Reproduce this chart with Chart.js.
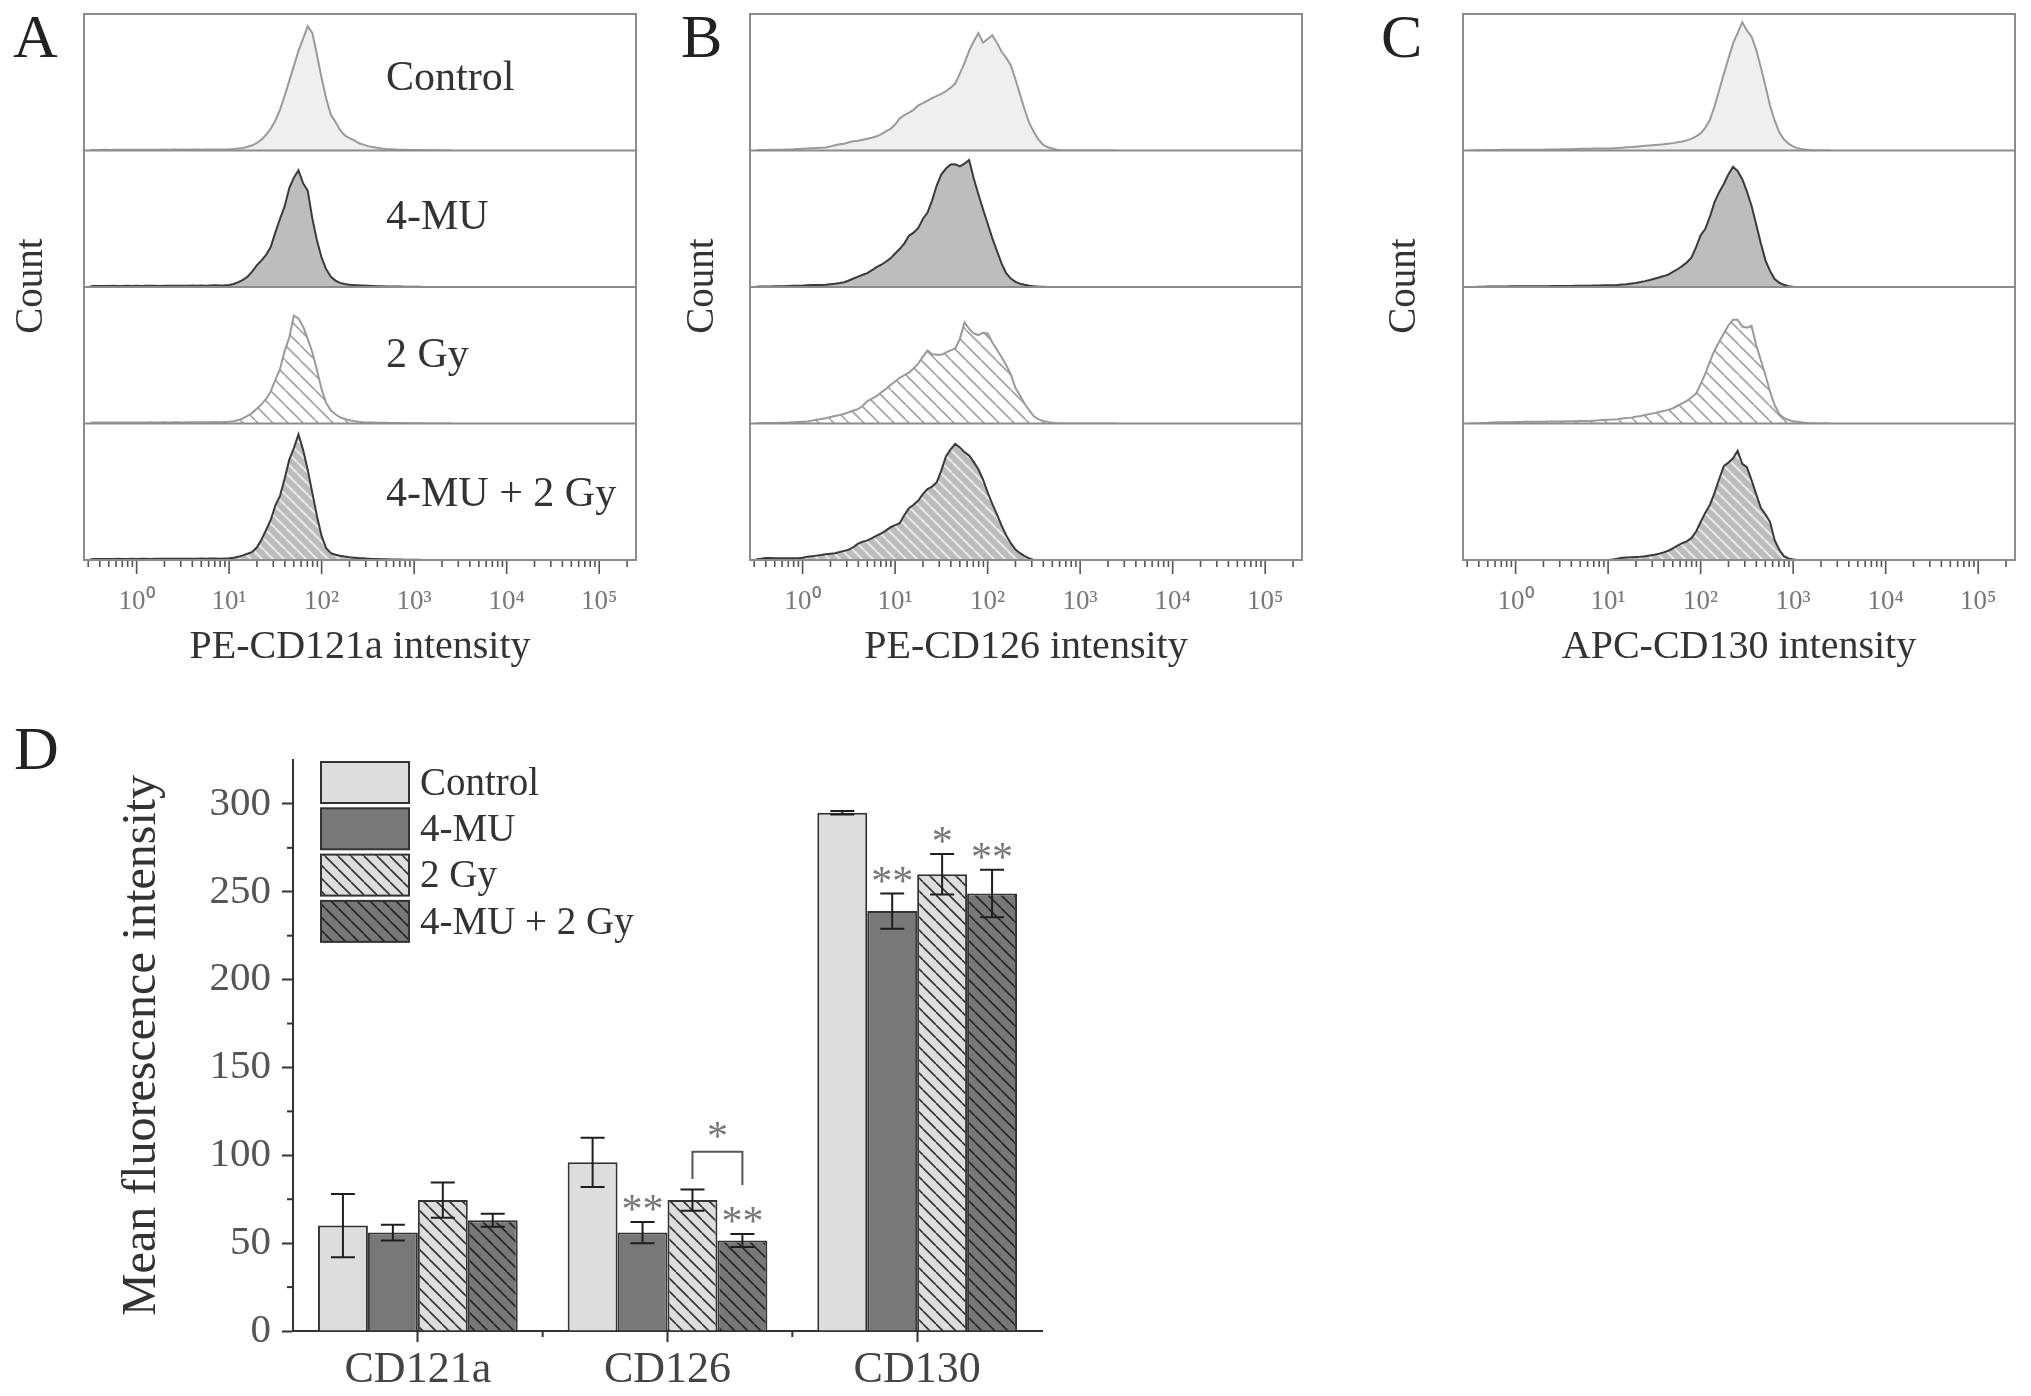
<!DOCTYPE html>
<html>
<head>
<meta charset="utf-8">
<script src="https://cdn.jsdelivr.net/npm/chart.js@4.4.0/dist/chart.umd.min.js"></script>
<style>
  html, body { margin: 0; padding: 0; background: #fff; }
  body { width: 2031px; height: 1396px; position: relative; overflow: hidden; font-family: "Liberation Serif", "Times New Roman", serif; }
  canvas { position: absolute; }
  .t { position: absolute; white-space: nowrap; line-height: 1; color: #333; }
  .letter { font-size: 62px; color: #222; }
  .count { font-size: 39px; transform: translate(-50%, -50%) rotate(-90deg); }
  .cond { font-size: 42px; }
</style>
</head>
<body>
<canvas id="histA" width="700" height="671" style="left:0px;top:0px;width:700px;height:671px"></canvas>
<canvas id="histB" width="700" height="671" style="left:666px;top:0px;width:700px;height:671px"></canvas>
<canvas id="histC" width="652" height="671" style="left:1379px;top:0px;width:652px;height:671px"></canvas>
<canvas id="barD" width="1100" height="696" style="left:0px;top:700px;width:1100px;height:696px"></canvas>

<div class="t letter" style="left:13px;top:5px">A</div>
<div class="t letter" style="left:681px;top:5px">B</div>
<div class="t letter" style="left:1381px;top:5px">C</div>
<div class="t letter" style="left:14px;top:717px">D</div>

<div class="t count" style="left:28px;top:286px">Count</div>
<div class="t count" style="left:699px;top:286px">Count</div>
<div class="t count" style="left:1401px;top:286px">Count</div>

<div class="t cond" id="cond0" style="left:386px;top:55px"></div>
<div class="t cond" id="cond1" style="left:386px;top:194px"></div>
<div class="t cond" id="cond2" style="left:386px;top:332px"></div>
<div class="t cond" id="cond3" style="left:386px;top:471px"></div>

<script>
// ---------------- data ----------------
const conditions = ['Control', '4-MU', '2 Gy', '4-MU + 2 Gy'];
const markers = ['CD121a', 'CD126', 'CD130'];
const xTitles = ['PE-CD121a intensity', 'PE-CD126 intensity', 'APC-CD130 intensity'];

// histogram bin centres (fluorescence intensity)
const intensity = [
  0.316, 0.355, 0.398, 0.447, 0.501, 0.562, 0.631, 0.708, 0.794, 0.891,
  1.00, 1.12, 1.26, 1.41, 1.58, 1.78, 2.00, 2.24, 2.51, 2.82,
  3.16, 3.55, 3.98, 4.47, 5.01, 5.62, 6.31, 7.08, 7.94, 8.91,
  10.0, 11.2, 12.6, 14.1, 15.8, 17.8, 20.0, 22.4, 25.1, 28.2,
  31.6, 35.5, 39.8, 44.7, 50.1, 56.2, 63.1, 70.8, 79.4, 89.1,
  100, 112, 126, 141, 158, 178, 200, 224, 251, 282,
  316, 355, 398, 447, 501, 562, 631, 708, 794, 891,
  1000, 1122, 1259, 1413, 1585, 1778, 1995, 2239, 2512
];

// counts (% of modal height) — panel A, PE-CD121a
const cd121aControl = [
  0.3,0.4,0.4,0.5,0.4,0.5,0.6,0.5,0.6,0.5,
  0.6,0.5,0.6,0.6,0.5,0.6,0.7,0.6,0.7,0.6,
  0.7,0.6,0.7,0.7,0.6,0.7,0.8,0.7,0.8,0.8,
  0.9,1.1,1.4,1.8,2.7,3.8,5.5,8,11.5,16,
  22,30,40,51,62,73,82,91,86,70,
  53,38,26,21,15,11,9,7.5,5.5,4.3,
  3.2,2.6,2,1.5,1.1,0.9,0.7,0.6,0.5,0.4,
  0.3,0.3,0.2,0.2,0.1,0.1,0,0,0
];
const cd121aMU = [
  0.6,0.7,0.8,0.7,0.8,0.9,0.8,0.8,0.9,0.8,
  0.9,0.8,0.9,1.0,0.9,0.8,0.9,1.0,0.9,1.0,
  0.9,1.0,1.1,1.0,1.1,1.0,1.1,1.2,1.1,1.2,
  1.5,2.2,3.6,5.2,7.5,11.5,16,19.5,23.5,29.5,
  40,50,59,72.5,80,85.5,76,70.5,50,34,
  21.5,13,7.5,4.7,3,2.2,1.7,1.4,1.2,1.1,
  1,0.8,0.6,0.5,0.4,0.4,0.3,0.3,0.2,0.2,
  0.1,0.1,0,0,0,0,0,0,0
];
const cd121aGy = [
  0.6,0.7,0.7,0.8,0.7,0.8,0.8,0.7,0.8,0.8,
  0.8,0.7,0.8,0.9,0.8,0.8,0.9,0.8,0.9,0.9,
  0.8,0.9,0.9,1.0,0.9,1.0,1.0,1.1,1.0,1.1,
  1.2,1.7,2.5,3.8,5.5,7.8,11,14,18,23.5,
  32,40,53,63,79,77,71,62,52,39,
  25,15,9.5,6.8,4.6,3.4,2.4,1.8,1.3,1,
  0.8,0.7,0.6,0.5,0.5,0.4,0.3,0.3,0.2,0.2,
  0.1,0.1,0,0,0,0,0,0,0
];
const cd121aMUGy = [
  0.6,0.7,0.8,0.7,0.8,0.8,0.9,0.8,0.8,0.9,
  0.8,0.9,0.9,0.8,0.9,1.0,0.9,0.9,1.0,0.9,
  1.0,0.9,1.0,1.0,1.1,1.0,1.1,1.1,1.0,1.1,
  1.2,1.7,2.4,3.4,4.6,6,9.3,15,22,29.5,
  40,47,59.5,73.5,82,92,80.5,66,49,32,
  17.5,8.6,5,3.8,3.1,2.5,2,1.7,1.4,1.2,
  1,0.8,0.7,0.6,0.5,0.4,0.3,0.3,0.2,0.2,
  0.1,0.1,0,0,0,0,0,0,0
];

// panel B, PE-CD126
const cd126Control = [
  0.2,0.3,0.4,0.5,0.5,0.6,0.6,0.8,0.9,1.1,
  1.3,1.4,1.6,1.8,2,2.2,3,3.9,4.5,5,
  6,6.7,7.2,7.9,8.6,9.4,10.4,12,14,15.8,
  19,23.5,26,27.8,29.8,33,34.7,36.5,38.3,40,
  41.5,43.5,46,49,56.5,64,73,80,86,79,
  81.7,84.5,79,72.5,68,62.5,52,41,30,20,
  13.5,8,4.2,2.4,1.5,0.6,0,0,0,0,
  0,0,0,0,0,0,0,0,0
];
const cd126MU = [
  0.2,0.3,0.4,0.4,0.5,0.5,0.6,0.8,0.9,1.0,
  1.1,1.3,1.4,1.4,1.5,1.6,2,2.4,2.9,3.5,
  4.8,6.2,7.6,9,10.2,12.3,14.6,16.3,18.5,21,
  24.5,27.8,32,37.5,39.8,43.3,50,54.5,63.5,74.5,
  82.5,86.8,89.7,90,88.3,90.4,93,79.5,68,57,
  46.5,36,26.5,17.5,10.3,6.2,3.8,2.4,1.6,0.9,
  0.5,0.3,0.2,0,0,0,0,0,0,0,
  0,0,0,0,0,0,0,0,0
];
const cd126Gy = [
  0.1,0.2,0.3,0.3,0.4,0.5,0.6,0.7,0.9,1.1,
  1.3,1.5,2.1,2.8,3.3,3.8,4.7,5.5,6.2,7.1,
  8.2,9.5,10.5,13,16.4,18.3,20,22.8,25.3,28.2,
  30.8,33.5,35.5,37.2,40.3,43.9,49,53.5,50.7,50.3,
  50.3,52,53.6,55,62,74,69.3,66,64.8,66.5,
  66,59.5,54,48.7,43,36,26,20.5,14.5,9.6,
  5.3,3,1.9,1.2,0.6,0,0,0,0,0,
  0,0,0,0,0,0,0,0,0
];
const cd126MUGy = [
  0.6,1.0,1.5,1.4,1.3,1.3,1.3,1.3,1.3,1.3,
  1.6,2.4,2.8,3.2,3.6,4.2,4.6,5,5.8,6.7,
  7.6,9.5,12,13.5,14.4,16,17.8,19.5,21.5,24,
  25.5,27,33,38,40.5,43.5,48.4,52,53.8,57,
  65.7,76,81,85,82.5,79,76.5,71.7,66.5,59,
  49.5,41.3,33.5,25.5,18.3,12.3,7.7,5,2.8,1.2,
  0,0,0,0,0,0,0,0,0,0,
  0,0,0,0,0,0,0,0,0
];

// panel C, APC-CD130
const cd130Control = [
  0,0,0.1,0.2,0.3,0.4,0.4,0.5,0.5,0.5,
  0.6,0.6,0.6,0.6,0.6,0.6,0.6,0.7,0.7,0.8,
  0.9,1.0,1.0,1.1,1.2,1.3,1.3,1.4,1.4,1.5,
  1.5,1.6,1.8,2.1,2.3,2.5,2.8,3.1,3.4,3.7,
  4,4.3,4.6,5,5.4,6,6.5,7.4,8.5,10.3,
  12.5,16.5,22.5,32,43.7,56,67.5,78.5,86,94,
  88,83.5,74,61,47.5,33,22,13.3,8.2,5,
  3,1.6,1,0.5,0,0,0,0,0
];
const cd130MU = [
  0,0,0.1,0.2,0.3,0.3,0.4,0.4,0.4,0.5,
  0.5,0.5,0.5,0.6,0.6,0.6,0.6,0.6,0.7,0.7,
  0.7,0.8,0.8,0.9,0.9,1.0,1.0,1.1,1.1,1.2,
  1.2,1.3,1.5,1.8,2.1,2.5,3,3.6,4.3,5.1,
  6,7,8,9.1,11,13,15.3,18,21.5,29,
  38,42.5,51.5,62,69.3,75.5,82.7,88,85,79,
  70,59.5,46,32,19.7,11.8,5.8,3.1,1.6,0.5,
  0.2,0,0,0,0,0,0,0,0
];
const cd130Gy = [
  0,0,0,0.3,0.5,0.8,1,1,1,1,
  1.1,1.1,1.2,1.2,1.2,1.3,1.3,1.4,1.4,1.5,
  1.5,1.6,1.6,1.7,1.8,1.9,1.9,2.1,2.3,2.5,
  2.7,2.9,3.2,3.6,4,4.3,4.9,5.5,6.3,6.9,
  7.6,8.4,9.1,10,11.2,13,14.8,16.6,19,21.8,
  28.8,36.3,45.3,53.5,59.7,66,72,76,76,71,
  70.2,71.5,57.5,46.5,35.5,23.5,13.5,7,4,2.6,
  1.7,1.2,0.7,0.4,0,0,0,0,0
];
const cd130MUGy = [
  0,0,0,0,0,0,0,0,0,0,
  0,0,0,0,0,0,0,0,0,0,
  0,0,0,0,0,0,0,0,0,0,
  0,0.3,1.0,1.6,1.8,2,2.2,2.4,2.8,3.3,
  3.8,4.6,5.6,6.8,8.6,10.5,12.3,13.6,16,20.7,
  27.8,34.5,40.5,49,59,68.7,71.5,74.5,80,70.5,
  68,58.5,48.3,38.2,33.5,28,14.5,7.5,2.8,1.2,
  0.4,0,0,0,0,0,0,0,0
];

// panel D: mean fluorescence intensity and error (one value per marker)
const mfiControl = [60, 96, 295];
const mfiMU      = [56, 56, 239];
const mfiGy      = [74.5, 74.5, 260];
const mfiMUGy    = [63, 51.5, 249];
const errControl = [18, 14, 1];
const errMU      = [4.5, 6, 10];
const errGy      = [10, 6, 11.5];
const errMUGy    = [3.7, 3.7, 13.5];
const sigControl = ['', '', ''];
const sigMU      = ['', '**', '**'];
const sigGy      = ['', '', '*'];
const sigMUGy    = ['', '**', '**'];
// bracket comparing 2 Gy vs 4-MU + 2 Gy within CD126
const bracketMarker = 'CD126';
const bracketPair = ['2 Gy', '4-MU + 2 Gy'];
const bracketLabel = '*';
const bracketLevels = [86.5, 102, 83]; // left end, top, right end (MFI units)

// ---------------- styling ----------------
const SERIF = '"Liberation Serif", "Times New Roman", serif';
document.querySelectorAll('.cond').forEach((d, i) => d.textContent = conditions[i]);

function hatch(bg, fg, step, lw) {
  const c = document.createElement('canvas');
  c.width = step; c.height = step;
  const g = c.getContext('2d');
  if (bg) { g.fillStyle = bg; g.fillRect(0, 0, step, step); }
  g.strokeStyle = fg; g.lineWidth = lw;
  g.beginPath();
  for (const o of [-step, 0, step]) { g.moveTo(o, 0); g.lineTo(o + step, step); }
  g.stroke();
  return g.createPattern(c, 'repeat');
}

const histStyles = [
  { border: '#9a9a9a', fill: '#efefef' },
  { border: '#3a3a3a', fill: '#bdbdbd' },
  { border: '#9a9a9a', fill: hatch('#ffffff', '#a2a2a2', 15, 1.6) },
  { border: '#3a3a3a', fill: hatch('#bcbcbc', '#e8e8e8', 11, 2) }
];

const supDigits = ['\u2070', '\u00B9', '\u00B2', '\u00B3', '\u2074', '\u2075'];

const framePlugin = {
  id: 'frame',
  afterDraw(chart) {
    const ctx = chart.ctx, a = chart.chartArea, xs = chart.scales.x;
    ctx.save();
    // ticks
    ctx.strokeStyle = '#555'; ctx.lineWidth = 1.6;
    xs.ticks.forEach(t => {
      const px = xs.getPixelForValue(t.value);
      const len = t.major ? 14 : 7;
      ctx.beginPath(); ctx.moveTo(px, a.bottom); ctx.lineTo(px, a.bottom + len); ctx.stroke();
    });
    // frame and stripe dividers
    ctx.strokeStyle = '#8c8c8c'; ctx.lineWidth = 2;
    ctx.strokeRect(a.left, a.top, a.right - a.left, a.bottom - a.top);
    for (let k = 0; k < 4; k++) {
      const s = chart.scales['y' + k];
      if (Math.abs(s.bottom - a.bottom) > 1) {
        ctx.beginPath(); ctx.moveTo(a.left, s.bottom); ctx.lineTo(a.right, s.bottom); ctx.stroke();
      }
    }
    ctx.restore();
  }
};

function histChart(id, sets, title) {
  const scales = {
    x: {
      type: 'logarithmic', min: 0.27, max: 250000,
      grid: { display: false }, border: { display: false },
      afterBuildTicks: s => {
        const t = [];
        for (let e = -1; e <= 5; e++) for (let m = 1; m <= 9; m++) {
          const v = m * Math.pow(10, e);
          if (v >= s.min && v <= s.max) t.push({ value: v, major: m === 1 });
        }
        s.ticks = t;
      },
      afterFit: s => { s.height = 111; },
      ticks: {
        autoSkip: false, maxRotation: 0, minRotation: 0, padding: 18, color: '#777',
        font: { family: SERIF, size: 27 },
        callback: v => {
          const e = Math.round(Math.log10(v));
          return (e >= 0 && Math.abs(v - Math.pow(10, e)) < 1e-6 * Math.pow(10, e)) ? '10' + supDigits[e] : '';
        }
      },
      title: { display: true, text: title, color: '#333', padding: 0, font: { family: SERIF, size: 40 } }
    }
  };
  // stacked count axes; later-defined axes are placed higher, so define bottom stripe first
  for (let k = sets.length - 1; k >= 0; k--) {
    scales['y' + k] = { type: 'linear', min: 0, max: 100, stack: 'hist', stackWeight: 1, display: false, offset: false };
  }
  new Chart(document.getElementById(id), {
    type: 'line',
    data: {
      datasets: sets.map((vals, k) => ({
        label: conditions[k],
        data: intensity.map((x, i) => ({ x: x, y: vals[i] })),
        yAxisID: 'y' + k,
        borderColor: histStyles[k].border,
        backgroundColor: histStyles[k].fill,
        fill: 'origin',
        borderWidth: 2,
        pointRadius: 0,
        tension: 0
      }))
    },
    options: {
      responsive: false, animation: false, devicePixelRatio: 1,
      layout: { padding: { left: 84, top: 14, right: document.getElementById(id).width - 636, bottom: 0 } },
      plugins: { legend: { display: false }, tooltip: { enabled: false } },
      scales: scales
    },
    plugins: [framePlugin]
  });
}

histChart('histA', [cd121aControl, cd121aMU, cd121aGy, cd121aMUGy], xTitles[0]);
histChart('histB', [cd126Control, cd126MU, cd126Gy, cd126MUGy], xTitles[1]);
histChart('histC', [cd130Control, cd130MU, cd130Gy, cd130MUGy], xTitles[2]);

// ---------------- panel D ----------------
const barFills = ['#dddddd', '#787878', hatch('#dddddd', '#333333', 13, 1.6), hatch('#787878', '#262626', 13, 1.6)];
const means = [mfiControl, mfiMU, mfiGy, mfiMUGy];
const errs = [errControl, errMU, errGy, errMUGy];
const sigs = [sigControl, sigMU, sigGy, sigMUGy];

const barPlugin = {
  id: 'barExtras',
  afterDatasetsDraw(chart) {
    const ctx = chart.ctx, ys = chart.scales.y, xs = chart.scales.x, a = chart.chartArea;
    ctx.save();
    // error bars
    chart.data.datasets.forEach((ds, i) => {
      const meta = chart.getDatasetMeta(i);
      meta.data.forEach((el, j) => {
        const v = ds.data[j], e = ds.err[j];
        const y1 = ys.getPixelForValue(v + e), y2 = ys.getPixelForValue(v - e);
        ctx.strokeStyle = '#1e1e1e'; ctx.lineWidth = 2;
        ctx.beginPath();
        ctx.moveTo(el.x, y1); ctx.lineTo(el.x, y2);
        ctx.moveTo(el.x - 12, y1); ctx.lineTo(el.x + 12, y1);
        ctx.moveTo(el.x - 12, y2); ctx.lineTo(el.x + 12, y2);
        ctx.stroke();
        if (ds.sig[j]) {
          ctx.fillStyle = '#777'; ctx.font = '42px ' + SERIF;
          ctx.textAlign = 'center'; ctx.textBaseline = 'alphabetic';
          ctx.fillText(ds.sig[j], el.x, y1 + 1);
        }
      });
    });
    // bracket
    const ci = markers.indexOf(bracketMarker);
    const i1 = conditions.indexOf(bracketPair[0]), i2 = conditions.indexOf(bracketPair[1]);
    const bx1 = chart.getDatasetMeta(i1).data[ci].x, bx2 = chart.getDatasetMeta(i2).data[ci].x;
    const yl = ys.getPixelForValue(bracketLevels[0]), yt = ys.getPixelForValue(bracketLevels[1]), yr = ys.getPixelForValue(bracketLevels[2]);
    ctx.strokeStyle = '#555'; ctx.lineWidth = 2;
    ctx.beginPath(); ctx.moveTo(bx1, yl); ctx.lineTo(bx1, yt); ctx.lineTo(bx2, yt); ctx.lineTo(bx2, yr); ctx.stroke();
    ctx.fillStyle = '#777'; ctx.font = '42px ' + SERIF; ctx.textAlign = 'center'; ctx.textBaseline = 'alphabetic';
    ctx.fillText(bracketLabel, (bx1 + bx2) / 2, yt - 2);
    // minor ticks
    ctx.strokeStyle = '#333'; ctx.lineWidth = 2;
    for (let v = 25; v < ys.max; v += 50) {
      const py = ys.getPixelForValue(v);
      ctx.beginPath(); ctx.moveTo(a.left, py); ctx.lineTo(a.left - 6, py); ctx.stroke();
    }
    for (let j = 0; j < markers.length - 1; j++) {
      const px = (xs.getPixelForValue(j) + xs.getPixelForValue(j + 1)) / 2;
      ctx.beginPath(); ctx.moveTo(px, a.bottom); ctx.lineTo(px, a.bottom + 6); ctx.stroke();
    }
    // legend
    const lx = a.left + 28, ly = a.top + 2, bw = 88, bh = 41, pitch = 46.3;
    chart.data.datasets.forEach((ds, i) => {
      const y = ly + i * pitch;
      ctx.fillStyle = ds.backgroundColor;
      ctx.fillRect(lx, y, bw, bh);
      ctx.strokeStyle = '#333'; ctx.lineWidth = 2;
      ctx.strokeRect(lx, y, bw, bh);
      ctx.fillStyle = '#333'; ctx.font = '39px ' + SERIF; ctx.textAlign = 'left'; ctx.textBaseline = 'middle';
      ctx.fillText(ds.label, lx + bw + 11, y + bh / 2 + 2);
    });
    ctx.restore();
  }
};

new Chart(document.getElementById('barD'), {
  type: 'bar',
  data: {
    labels: markers,
    datasets: conditions.map((c, i) => ({
      label: c, data: means[i], err: errs[i], sig: sigs[i],
      backgroundColor: barFills[i], borderColor: '#333', borderWidth: 2,
      barPercentage: 1, categoryPercentage: 0.8
    }))
  },
  options: {
    responsive: false, animation: false, devicePixelRatio: 1,
    layout: { padding: { left: 0, top: 60, right: 58, bottom: 0 } },
    plugins: { legend: { display: false }, tooltip: { enabled: false } },
    scales: {
      x: {
        grid: { offset: false, drawOnChartArea: false, tickLength: 11, tickWidth: 2, tickColor: '#333' },
        border: { color: '#333', width: 2 },
        ticks: { color: '#444', padding: 2, font: { family: SERIF, size: 44 } },
        afterFit: s => { s.height = 65; }
      },
      y: {
        min: 0, max: 325,
        ticks: { stepSize: 25, color: '#555', padding: 11, font: { family: SERIF, size: 41 },
          callback: v => (v % 50 === 0 ? String(v) : '') },
        grid: { drawOnChartArea: false, tickLength: 11, tickWidth: 2,
          tickColor: c => (c.tick && c.tick.value % 50 === 0) ? '#333' : 'rgba(0,0,0,0)' },
        border: { color: '#333', width: 2 },
        title: { display: true, text: 'Mean fluorescence intensity', color: '#333',
          padding: { top: 114, bottom: 0 }, font: { family: SERIF, size: 48 } },
        afterFit: s => { s.width = 293; }
      }
    }
  },
  plugins: [barPlugin]
});
</script>
</body>
</html>
